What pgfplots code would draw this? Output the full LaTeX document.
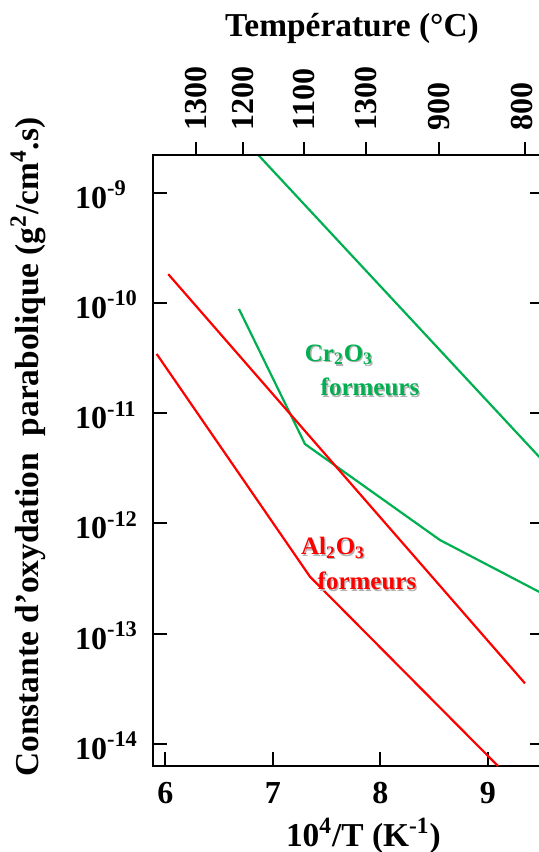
\documentclass[border=0pt]{standalone}
\usepackage{pgfplots}
\pgfplotsset{compat=1.18}
\usepackage{fontspec}
\setmainfont{Liberation Serif}
\definecolor{xlgreen}{RGB}{0,176,80}
\definecolor{xlred}{RGB}{255,0,0}
\newcommand{\tfont}{\bfseries\fontsize{16}{19}\selectfont}
\newcommand{\lfont}{\bfseries\fontsize{16.7}{20}\selectfont}
\newcommand{\afont}{\bfseries\fontsize{12.5}{14}\selectfont}
\begin{document}
\begin{tikzpicture}
\useasboundingbox (-76.5pt,-43pt) rectangle (193pt,383pt);
\begin{axis}[
  scale only axis, width=195.5pt, height=305.5pt,
  at={(0,0)}, anchor=south west,
  xmin=5.884, xmax=9.522,
  ymode=log, ymin=6.30e-15, ymax=2.19e-9,
  axis line style={line width=1pt},
  tick style={line width=1pt, black},
  major tick length=7pt,
  tick align=inside,
  xtick pos=bottom, ytick pos=both,
  xtick={6,7,8,9}, xticklabels={6,7,8,9},
  ytick={1e-14,1e-13,1e-12,1e-11,1e-10,1e-9},
  yticklabels={10\textsuperscript{-14},10\textsuperscript{-13},10\textsuperscript{-12},10\textsuperscript{-11},10\textsuperscript{-10},10\textsuperscript{-9}},
  yminorticks=false, xminorticks=false,
  tick label style={font=\tfont},
  yticklabel style={anchor=west, xshift=-42.5pt, yshift=-1pt},
  xticklabel style={yshift=-4.5pt},
  xlabel={10\textsuperscript{4}/T (K\textsuperscript{-1})},
  xlabel style={at={(axis description cs:0.538,-0.1146)}, anchor=center, font=\lfont},
  ylabel={Constante d’oxydation\ \ parabolique (g\textsuperscript{2}/cm\textsuperscript{4}.s)},
  ylabel style={at={(axis description cs:-0.3197,0.522)}, anchor=center, font=\lfont},
  every axis plot/.append style={line width=1.1pt, line join=round},
]
\addplot[xlgreen] coordinates {(6.864,2.19e-9) (9.522,3.60e-12)};
\addplot[xlgreen] coordinates {(6.684,8.79e-11) (7.298,5.24e-12) (8.554,7.06e-13) (9.522,2.27e-13)};
\addplot[xlred] coordinates {(6.026,1.82e-10) (9.345,3.54e-14)};
\addplot[xlred] coordinates {(5.918,3.44e-11) (7.345,3.28e-13) (9.094,6.30e-15)};
\begin{scope}[every node/.style={font=\afont}]
\node[text=black!30, xshift=0.7pt, yshift=-0.7pt] at (axis cs:7.614,3.37e-11) {Cr\textsubscript{2}O\textsubscript{3}};
\node[text=xlgreen] at (axis cs:7.614,3.37e-11) {Cr\textsubscript{2}O\textsubscript{3}};
\node[text=black!30, xshift=0.7pt, yshift=-0.7pt] at (axis cs:7.903,1.72e-11) {formeurs};
\node[text=xlgreen] at (axis cs:7.903,1.72e-11) {formeurs};
\node[text=black!30, xshift=0.7pt, yshift=-0.7pt] at (axis cs:7.559,6.0e-13) {Al\textsubscript{2}O\textsubscript{3}};
\node[text=xlred] at (axis cs:7.559,6.0e-13) {Al\textsubscript{2}O\textsubscript{3}};
\node[text=black!30, xshift=0.7pt, yshift=-0.7pt] at (axis cs:7.875,2.99e-13) {formeurs};
\node[text=xlred] at (axis cs:7.875,2.99e-13) {formeurs};
\end{scope}
\end{axis}
\begin{axis}[
  scale only axis, width=195.5pt, height=305.5pt,
  at={(0,0)}, anchor=south west,
  xmin=5.884, xmax=9.522, ymin=0, ymax=1,
  axis x line*=top, hide y axis,
  axis line style={-, line width=1pt},
  tick style={line width=1pt, black},
  major tick length=6.5pt, tick align=outside,
  xminorticks=false,
  xtick={6.281,6.724,7.292,7.866,8.542,9.345},
  xticklabels={1300,1200,1100,1300,900,\raisebox{3.4pt}{800}},
  xticklabel style={rotate=90, anchor=west, font=\tfont, inner xsep=5.3pt, inner ysep=0pt},
  xlabel={Température (°C)},
  xlabel style={at={(axis description cs:0.509,1.2079)}, anchor=center, font=\lfont},
]
\end{axis}
\end{tikzpicture}
\end{document}
